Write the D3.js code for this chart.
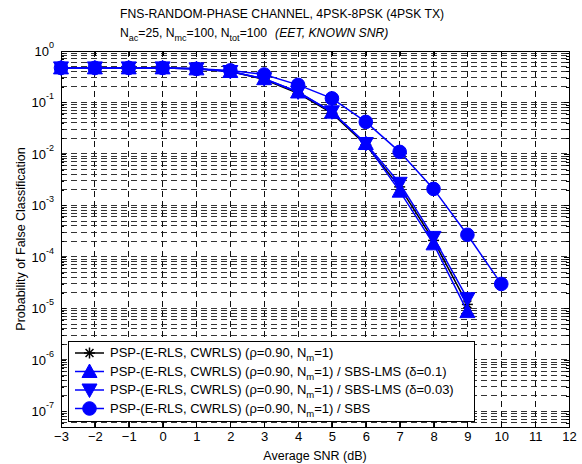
<!DOCTYPE html>
<html><head><meta charset="utf-8">
<script src="https://cdn.jsdelivr.net/npm/d3@7"></script>
<style>body{margin:0;background:#fff;} text{font-family:"Liberation Sans",Arial,sans-serif;}</style>
</head><body><svg id="c" width="582" height="464"></svg>
<script>
const snr = [-3,-2,-1,0,1,2,3,4,5,6,7,8,9,10];
const pspOnly   = [0.47,0.47,0.47,0.47,0.45,0.40,0.28,0.15,0.062,0.015,2.3e-3,2.1e-4,1.2e-5];
const sbsLms01  = [0.47,0.47,0.47,0.47,0.45,0.40,0.29,0.16,0.065,0.016,1.9e-3,1.8e-4,8.7e-6];
const sbsLms003 = [0.47,0.47,0.47,0.47,0.45,0.40,0.29,0.16,0.066,0.016,2.7e-3,2.4e-4,1.55e-5];
const sbs       = [0.47,0.47,0.47,0.47,0.45,0.42,0.35,0.22,0.12,0.042,0.011,2.1e-3,2.7e-4,3.0e-5];
const xTicks = [-3,-2,-1,0,1,2,3,4,5,6,7,8,9,10,11,12];
const yDecades = [0,-1,-2,-3,-4,-5,-6,-7];
const legendLabels = [
  ["PSP-(E-RLS, CWRLS) (ρ=0.90, N","m","=1)"],
  ["PSP-(E-RLS, CWRLS) (ρ=0.90, N","m","=1) / SBS-LMS (δ=0.1)"],
  ["PSP-(E-RLS, CWRLS) (ρ=0.90, N","m","=1) / SBS-LMS (δ=0.03)"],
  ["PSP-(E-RLS, CWRLS) (ρ=0.90, N","m","=1) / SBS"]
];

const svg = d3.select("#c");
const L=61, R=569, T=51, B=427;
const x = d3.scaleLinear().domain([-3,12]).range([L,R]);
const y = d3.scaleLog().domain([5e-8,1]).range([B,T]);

// grid
const g = svg.append("g");
const minor = [];
for (let d=-8; d<0; d++) for (let m=1; m<10; m++){ const v=m*Math.pow(10,d); if(v>=5e-8 && v<=1) minor.push(v);}
minor.push(1);
g.selectAll(".hg").data(minor).enter().append("line")
 .attr("x1",L).attr("x2",R).attr("y1",d=>y(d)).attr("y2",d=>y(d))
 .attr("stroke","#333").attr("stroke-width",1).attr("stroke-dasharray","6,4").attr("shape-rendering","crispEdges");
g.selectAll(".vg").data(xTicks).enter().append("line")
 .attr("y1",T).attr("y2",B).attr("x1",d=>x(d)).attr("x2",d=>x(d))
 .attr("stroke","#111").attr("stroke-width",1).attr("stroke-dasharray","6,4").attr("shape-rendering","crispEdges");

// axes
const xAxis = d3.axisBottom(x).tickValues(xTicks).tickSize(-5).tickPadding(5).tickFormat(d3.format("d"));
const xg = svg.append("g").attr("transform",`translate(0,${B})`).call(xAxis);
svg.append("g").attr("transform",`translate(0,${T})`).call(d3.axisTop(x).tickValues(xTicks).tickSize(-5).tickFormat(""));
const yMajor = yDecades.map(e=>Math.pow(10,e));
svg.append("g").attr("transform",`translate(${L},0)`).call(d3.axisLeft(y).tickValues(minor).tickSize(-3).tickFormat(""));
svg.append("g").attr("transform",`translate(${L},0)`).call(d3.axisLeft(y).tickValues(yMajor).tickSize(-5).tickFormat(""));
svg.append("g").attr("transform",`translate(${R},0)`).call(d3.axisRight(y).tickValues(minor).tickSize(-3).tickFormat(""));
svg.append("g").attr("transform",`translate(${R},0)`).call(d3.axisRight(y).tickValues(yMajor).tickSize(-5).tickFormat(""));
svg.selectAll(".domain").remove();
svg.selectAll(".tick line").attr("stroke","#000").attr("shape-rendering","crispEdges");
xg.selectAll("text").attr("font-size",13).attr("fill","#000").attr("font-family","Liberation Sans, Arial, sans-serif");
svg.append("rect").attr("x",L).attr("y",T).attr("width",R-L).attr("height",B-T)
 .attr("fill","none").attr("stroke","#000").attr("stroke-width",1).attr("shape-rendering","crispEdges");

// y labels
yDecades.forEach(e=>{
  const t = svg.append("text").attr("x",L-7).attr("y",y(Math.pow(10,e))+5).attr("text-anchor","end").attr("font-size",13);
  t.append("tspan").text("10");
  t.append("tspan").attr("dy",-8).attr("font-size",9).text(String(e));
});

// series
const blue = "#0000ff";
const line = d3.line().x((d,i)=>x(snr[i])).y(d=>y(d));
function drawSeries(vals,color,marker){
  svg.append("path").datum(vals).attr("d",line).attr("fill","none").attr("stroke",color).attr("stroke-width",1.5);
  const mg = svg.append("g");
  vals.forEach((v,i)=> marker(mg, x(snr[i]), y(v)));
}
function star(gg,cx,cy,s=5.5){
  const p=gg.append("g").attr("transform",`translate(${cx},${cy})`);
  [[-s,0,s,0],[0,-s,0,s],[-s*0.72,-s*0.72,s*0.72,s*0.72],[-s*0.72,s*0.72,s*0.72,-s*0.72]].forEach(a=>
    p.append("line").attr("x1",a[0]).attr("y1",a[1]).attr("x2",a[2]).attr("y2",a[3]).attr("stroke","#000").attr("stroke-width",1.5));
}
function triUp(gg,cx,cy,s=7.5){
  gg.append("path").attr("d",`M${cx},${cy-s}L${cx+s},${cy+s*0.8}L${cx-s},${cy+s*0.8}Z`).attr("fill",blue).attr("stroke",blue);
}
function triDown(gg,cx,cy,s=7.5){
  gg.append("path").attr("d",`M${cx},${cy+s}L${cx+s},${cy-s*0.8}L${cx-s},${cy-s*0.8}Z`).attr("fill",blue).attr("stroke",blue);
}
function circ(gg,cx,cy,r=6.8){
  gg.append("circle").attr("cx",cx).attr("cy",cy).attr("r",r).attr("fill",blue).attr("stroke",blue);
}
drawSeries(pspOnly,"#000",star);
drawSeries(sbsLms01,blue,triUp);
drawSeries(sbsLms003,blue,triDown);
drawSeries(sbs,blue,circ);

// legend
const lg = svg.append("g");
lg.append("rect").attr("x",68).attr("y",341).attr("width",406).attr("height",80)
  .attr("fill","#fff").attr("stroke","#000").attr("shape-rendering","crispEdges");
const markers=[[ "#000",star],[blue,triUp],[blue,triDown],[blue,circ]];
legendLabels.forEach((lab,i)=>{
  const cy = 353 + i*18.5;
  lg.append("line").attr("x1",75).attr("x2",104).attr("y1",cy).attr("y2",cy).attr("stroke",markers[i][0]).attr("stroke-width",1.5);
  markers[i][1](lg,89.5,cy);
  const t = lg.append("text").attr("x",110).attr("y",cy+4).attr("font-size",13);
  t.append("tspan").text(lab[0]);
  t.append("tspan").attr("dy",4).attr("font-size",9.5).text(lab[1]);
  t.append("tspan").attr("dy",-4).text(lab[2]);
});

// titles
svg.append("text").attr("x",120).attr("y",18).attr("font-size",12.2).text("FNS-RANDOM-PHASE CHANNEL, 4PSK-8PSK (4PSK TX)");
const t2 = svg.append("text").attr("x",120).attr("y",37).attr("font-size",12.2);
[["N",0,12.2],["ac",4,9],["=25, N",-4,12.2],["mc",4,9],["=100, N",-4,12.2],["tot",4,9],["=100",-4,12.2]].forEach(s=>
  t2.append("tspan").attr("dy",s[1]).attr("font-size",s[2]).text(s[0]));
t2.append("tspan").attr("dx",8).attr("font-style","italic").attr("font-size",12.2).text("(EET, KNOWN SNR)");
svg.append("text").attr("x",(L+R)/2).attr("y",460).attr("text-anchor","middle").attr("font-size",12.5).text("Average SNR (dB)");
svg.append("text").attr("transform",`translate(25,${(T+B)/2}) rotate(-90)`).attr("text-anchor","middle").attr("font-size",12.5).text("Probability of False Classification");
</script></body></html>
